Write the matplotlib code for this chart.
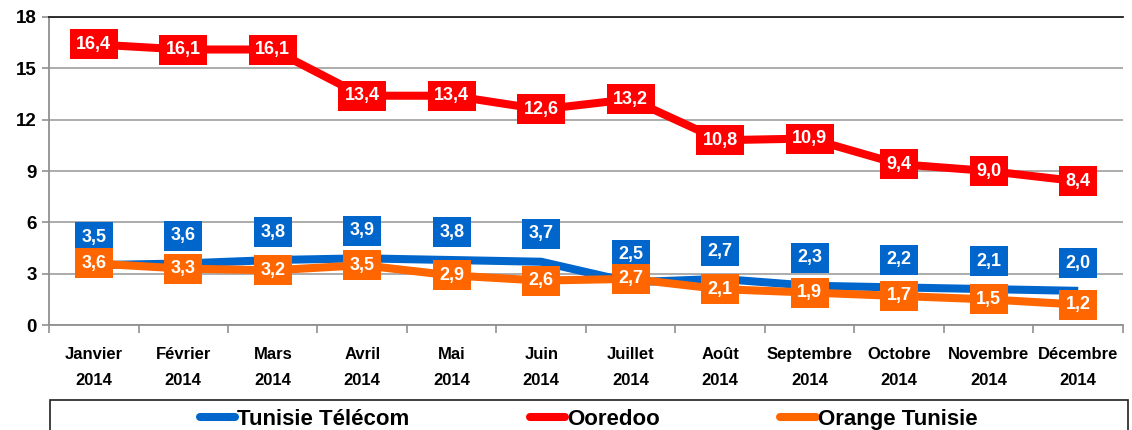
import matplotlib.pyplot as plt
from matplotlib.lines import Line2D
from matplotlib.patches import Rectangle

plt.rcParams['font.family'] = ['Liberation Sans', 'DejaVu Sans']
plt.rcParams['font.weight'] = 'bold'

mois = ['Janvier\n2014', 'Février\n2014', 'Mars\n2014', 'Avril\n2014', 'Mai\n2014',
        'Juin\n2014', 'Juillet\n2014', 'Août\n2014', 'Septembre\n2014',
        'Octobre\n2014', 'Novembre\n2014', 'Décembre\n2014']
tunisie_telecom = [3.5, 3.6, 3.8, 3.9, 3.8, 3.7, 2.5, 2.7, 2.3, 2.2, 2.1, 2.0]
ooredoo = [16.4, 16.1, 16.1, 13.4, 13.4, 12.6, 13.2, 10.8, 10.9, 9.4, 9.0, 8.4]
orange_tn = [3.6, 3.3, 3.2, 3.5, 2.9, 2.6, 2.7, 2.1, 1.9, 1.7, 1.5, 1.2]

c_tt = '#0066CC'
c_oo = '#FF0000'
c_or = '#FF6600'

fig = plt.figure(figsize=(11.32, 4.30), dpi=100)
ax = fig.add_axes([0.0433, 0.244, 0.9487, 0.7165])

x = list(range(len(mois)))
ax.plot(x, tunisie_telecom, color=c_tt, lw=5.8, solid_capstyle='butt', zorder=3)
ax.plot(x, ooredoo, color=c_oo, lw=5.8, solid_capstyle='butt', zorder=3)
ax.plot(x, orange_tn, color=c_or, lw=5.8, solid_capstyle='butt', zorder=3)

def etiquettes(vals, col, dy, z):
    for i, v in enumerate(vals):
        ax.annotate(f'{v:.1f}'.replace('.', ','), (i, v), xytext=(0, dy),
                    textcoords='offset points', ha='center', va='center',
                    color='white', fontsize=13, fontweight='bold', zorder=z,
                    bbox=dict(boxstyle='square,pad=0.36', fc=col, ec='none'))

etiquettes(tunisie_telecom, c_tt, 20, 4)
etiquettes(orange_tn, c_or, 0, 5)
etiquettes(ooredoo, c_oo, 0, 5)

ax.set_ylim(0, 18)
ax.set_yticks(range(0, 19, 3))
ax.set_xlim(-0.5, len(mois) - 0.5)
ax.set_xticks(x)
ax.set_xticklabels(mois, linespacing=1.9)
ax.set_xticks([i - 0.5 for i in range(len(mois) + 1)], minor=True)
ax.tick_params(axis='x', which='major', length=0, pad=16, labelsize=12)
ax.tick_params(axis='x', which='minor', length=6, color='#909090', width=1.2)
ax.tick_params(axis='y', length=5, color='#909090', width=1.2, labelsize=13.5, pad=4)

ax.grid(axis='y', color='#A6A6A6', lw=1.3, zorder=0)
ax.spines['right'].set_visible(False)
ax.spines['top'].set_color('#202020')
ax.spines['top'].set_linewidth(1.3)
ax.spines['left'].set_color('#909090')
ax.spines['bottom'].set_color('#909090')
ax.spines['left'].set_linewidth(1.3)
ax.spines['bottom'].set_linewidth(1.3)

# cadre de la légende
fig.patches.append(Rectangle((50 / 1132, -0.05), 1078 / 1132, (430 - 400) / 430 + 0.05,
                             transform=fig.transFigure, fill=False, ec='#202020', lw=1.2))
handles = [Line2D([], [], color=c, lw=5.8, solid_capstyle='round') for c in (c_tt, c_oo, c_or)]
fig.legend(handles, ['Tunisie Télécom', 'Ooredoo', 'Orange Tunisie'], ncol=3,
           loc='center', bbox_to_anchor=(0.52, 0.025), frameon=False,
           prop={'size': 16, 'weight': 'bold'}, handlelength=1.6, handletextpad=0.1,
           columnspacing=5.4)

fig.savefig('out.png', dpi=100)
